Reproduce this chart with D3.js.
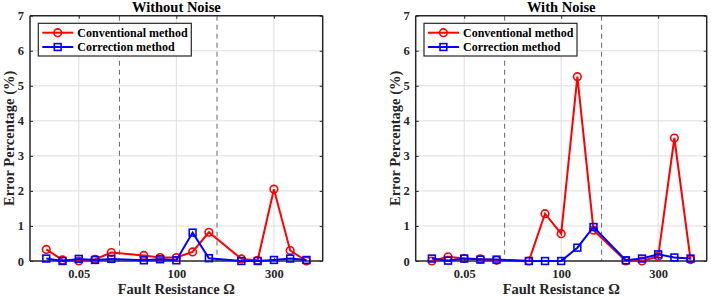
<!DOCTYPE html>
<html><head><meta charset="utf-8">
<script src="https://cdn.jsdelivr.net/npm/d3@7"></script>
<style>
body{margin:0;background:#fff;}
svg text{font-family:'Liberation Serif','Times New Roman','DejaVu Serif',serif !important;font-weight:bold;}
</style></head><body>
<svg id="chart" width="711" height="299"></svg>
<script>
// ---- data ----
const xPositions = [1,2,3,4,5,7,8,9,10,11,13,14,15,16,17];
const xTickValues = [3, 9, 15];
const xTickLabels = ["0.05", "100", "300"];
const dividerPositions = [5.5, 11.5];
const yTickValues = [0,1,2,3,4,5,6,7];
const seriesNames = ["Conventional method", "Correction method"];
const panelTitles = ["Without Noise", "With Noise"];
const convWithout = [0.33,0.03,0.0,0.05,0.24,0.16,0.10,0.10,0.26,0.82,0.06,0.02,2.05,0.30,0.0];
const corrWithout = [0.07,0.0,0.06,0.03,0.06,0.02,0.05,0.02,0.81,0.08,0.0,0.0,0.03,0.07,0.03];
const convWith    = [0.0,0.12,0.07,0.06,0.02,0.0,1.35,0.78,5.26,0.88,0.0,0.0,0.13,3.51,0.04];
const corrWith    = [0.07,0.01,0.07,0.04,0.04,0.0,0.0,0.0,0.38,0.97,0.02,0.07,0.19,0.10,0.07];

const svg = d3.select("#chart");
const RED = "#ff0000", BLUE = "#0000ff", AX = "#262626";
const FONT = "'Liberation Serif','Times New Roman','DejaVu Serif',serif";

function panel(left, right, title, conv, corr) {
  const top = 15.7, bottom = 261;
  const x = d3.scaleLinear().domain([0, 18]).range([left, right]);
  const y = d3.scaleLinear().domain([0, 7]).range([bottom, top]);
  const g = svg.append("g");

  // grid
  g.selectAll(".gy").data(yTickValues.slice(1, -1)).enter().append("line")
    .attr("x1", left).attr("x2", right).attr("y1", d => y(d)).attr("y2", d => y(d))
    .attr("stroke", "#dedede").attr("stroke-width", 1);
  g.selectAll(".gx").data(xTickValues).enter().append("line")
    .attr("x1", d => x(d)).attr("x2", d => x(d)).attr("y1", top).attr("y2", bottom)
    .attr("stroke", "#dedede").attr("stroke-width", 1);
  // dashed dividers
  g.selectAll(".dv").data(dividerPositions).enter().append("line")
    .attr("x1", d => x(d)).attr("x2", d => x(d)).attr("y1", top).attr("y2", bottom)
    .attr("stroke", "#666").attr("stroke-width", 1).attr("stroke-dasharray", "5,4");

  // axes
  const yAxis = d3.axisLeft(y).tickValues(yTickValues).tickSize(-3).tickPadding(6).tickFormat(d3.format("d"));
  const ya = g.append("g").attr("transform", `translate(${left},0)`).call(yAxis);
  const yAxisR = d3.axisRight(y).tickValues(yTickValues).tickSize(-3).tickFormat("");
  const yr = g.append("g").attr("transform", `translate(${right},0)`).call(yAxisR);
  const xAxis = d3.axisBottom(x).tickValues(xTickValues).tickSize(-3).tickPadding(8)
    .tickFormat((d, i) => xTickLabels[i]);
  const xa = g.append("g").attr("transform", `translate(0,${bottom})`).call(xAxis);
  const xAxisT = d3.axisTop(x).tickValues(xTickValues).tickSize(-3).tickFormat("");
  const xt = g.append("g").attr("transform", `translate(0,${top})`).call(xAxisT);
  [ya, yr, xa, xt].forEach(a => {
    a.attr("font-family", FONT).attr("font-size", null);
    a.select(".domain").attr("stroke", AX).attr("stroke-width", 1.5);
    a.selectAll(".tick line").attr("stroke", AX).attr("stroke-width", 1);
    a.selectAll("text").attr("font-size", "12.5px").attr("fill", AX)
      .style("font-family", FONT).style("font-weight", "bold");
  });
  ya.select(".domain").attr("d", `M0,${top}V${bottom}`);
  yr.select(".domain").attr("d", `M0,${top}V${bottom}`);
  xa.select(".domain").attr("d", `M${left},0H${right}`);
  xt.select(".domain").attr("d", `M${left},0H${right}`);

  // series
  const line = d3.line().x((d, i) => x(xPositions[i])).y(d => y(d));
  g.append("path").datum(conv).attr("d", line).attr("fill", "none")
    .attr("stroke", RED).attr("stroke-width", 2);
  g.selectAll(".mc").data(conv).enter().append("circle")
    .attr("cx", (d, i) => x(xPositions[i])).attr("cy", d => y(d)).attr("r", 3.8)
    .attr("fill", "none").attr("stroke", RED).attr("stroke-width", 1.6);
  g.append("path").datum(corr).attr("d", line).attr("fill", "none")
    .attr("stroke", BLUE).attr("stroke-width", 2);
  g.selectAll(".ms").data(corr).enter().append("rect")
    .attr("x", (d, i) => x(xPositions[i]) - 3.4).attr("y", d => y(d) - 3.4)
    .attr("width", 6.8).attr("height", 6.8)
    .attr("fill", "none").attr("stroke", BLUE).attr("stroke-width", 1.6);

  // title & labels
  const cx = (left + right) / 2;
  g.append("text").attr("x", cx).attr("y", 12).attr("text-anchor", "middle")
    .style("font-family", FONT).attr("font-size", "14.5px").attr("fill", "#000").text(title);
  g.append("text").attr("x", cx).attr("y", 294).attr("text-anchor", "middle")
    .style("font-family", FONT).attr("font-size", "14.5px").attr("fill", AX).text("Fault Resistance \u03A9");
  g.append("text").attr("transform", `translate(${left - 16},${(top + bottom) / 2}) rotate(-90)`)
    .style("font-family", FONT).attr("text-anchor", "middle").attr("font-size", "14.5px").attr("fill", AX)
    .text("Error Percentage (%)");

  // legend
  const lx = left + 8.3, ly = 23.3;
  const lg = g.append("g");
  lg.append("rect").attr("x", lx).attr("y", ly).attr("width", 153).attr("height", 32.7)
    .attr("fill", "#fff").attr("stroke", AX).attr("stroke-width", 1.2);
  const rows = [{c: RED, m: "circle"}, {c: BLUE, m: "square"}];
  rows.forEach((r, i) => {
    const yy = ly + 9.4 + i * 14.3;
    lg.append("line").attr("x1", lx + 4).attr("x2", lx + 35).attr("y1", yy).attr("y2", yy)
      .attr("stroke", r.c).attr("stroke-width", 2);
    if (r.m === "circle") {
      lg.append("circle").attr("cx", lx + 19.4).attr("cy", yy).attr("r", 3.8)
        .attr("fill", "none").attr("stroke", r.c).attr("stroke-width", 1.6);
    } else {
      lg.append("rect").attr("x", lx + 19.4 - 3.4).attr("y", yy - 3.4).attr("width", 6.8).attr("height", 6.8)
        .attr("fill", "none").attr("stroke", r.c).attr("stroke-width", 1.6);
    }
    lg.append("text").attr("x", lx + 39).attr("y", yy + 4.2).attr("font-size", "12px")
      .style("font-family", FONT).attr("fill", "#000").text(seriesNames[i]);
  });
}

panel(30, 322.7, panelTitles[0], convWithout, corrWithout);
panel(415.7, 706.7, panelTitles[1], convWith, corrWith);
</script>
</body></html>
